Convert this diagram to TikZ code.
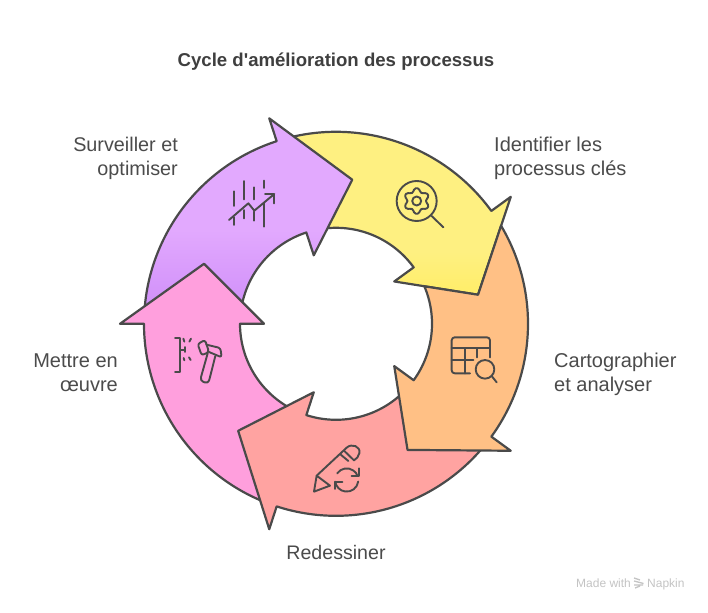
\documentclass[tikz,border=0pt]{standalone}
\usepackage{fontspec}
\setmainfont{Liberation Sans}
\newfontfamily\titlefont{Liberation Sans}
\definecolor{ink}{HTML}{4A4A4A}
\definecolor{labelc}{HTML}{4B4B4B}
\definecolor{titlec}{HTML}{3F3F3F}
\definecolor{markc}{HTML}{C4C4C4}
\definecolor{yelA}{HTML}{FEF081}
\definecolor{yelB}{HTML}{FFEE6C}
\definecolor{oraA}{HTML}{FFC085}
\definecolor{redA}{HTML}{FFA3A1}
\definecolor{pinA}{HTML}{FF9FDD}
\definecolor{purA}{HTML}{E2A9FE}
\definecolor{purB}{HTML}{D08FF9}
\pgfdeclareverticalshading{purshade}{100bp}{color(0bp)=(purB); color(27bp)=(purB); color(47bp)=(purA); color(100bp)=(purA)}
\pgfdeclareverticalshading{yelshade}{100bp}{color(0bp)=(yelB); color(27bp)=(yelB); color(37bp)=(yelA); color(100bp)=(yelA)}
\newcommand{\ringarrow}[4]{%
  \pgfmathsetmacro{\hb}{#2-24.44}%
  \path[ringshape,#1] (#3:192pt) arc[start angle=#3,end angle=#2,radius=192pt]
    -- (#2:216pt) -- (\hb:145pt) -- (#2:72pt) -- (#2:96pt)
    arc[start angle=#2,end angle=#4,radius=96pt] -- cycle;}
\tikzset{
  ringshape/.style={draw=ink,line width=2.2pt,line join=round},
  iconline/.style={draw=ink,line width=1.9pt,line cap=round,line join=round},
  zoomed/.style={x=0.33333pt,y=-0.33333pt},
  lab/.style={font=\fontsize{20}{24}\selectfont,text=labelc,inner sep=0pt},
  markfont/.style={font=\fontsize{12}{14}\selectfont,text=markc,inner sep=0pt,anchor=base west},
}
\begin{document}
\begin{tikzpicture}[x=1pt,y=1pt]
\useasboundingbox (0,0) rectangle (708,612);
\fill[white] (0,0) rectangle (708,612);

\node[font=\titlefont\bfseries\fontsize{18.6}{23}\selectfont,text=titlec,inner sep=0pt] (title) at (336,550.5) {Cycle d'amélioration des processus};

\begin{scope}[shift={(336,288.2)}]
  \ringarrow{shade,shading=yelshade}{36}{106}{99}
  \ringarrow{shade,shading=purshade}{108}{178}{171}
  \ringarrow{fill=pinA}{180}{250}{243}
  \ringarrow{fill=redA}{-108}{-38}{-45}
  % orange tail is cut along the edge of the yellow head
  \path[ringshape,fill=oraA] (30.72:192pt) arc[start angle=30.72,end angle=-36,radius=192pt]
    -- (-36:216pt) -- (-60.44:145pt) -- (-36:72pt) -- (-36:96pt)
    arc[start angle=-36,end angle=23,radius=96pt] -- (11.56:145pt) -- cycle;
\end{scope}

% gear and magnifier
\begin{scope}[shift={(385,442)},zoomed]
  \draw[iconline] (95,93) circle[radius=20pt];
  \draw[iconline] (95,93) circle[radius=4.5pt];
  \draw[iconline] (140,138) -- (175,172);
\end{scope}
\begin{scope}[shift={(416.7,411)}]
  \draw[iconline,rounded corners=1.6pt]
    (70:9.4pt) -- (79:13pt) -- (101:13pt) -- (110:9.4pt)
    -- (130:9.4pt) -- (139:13pt) -- (161:13pt) -- (170:9.4pt)
    -- (190:9.4pt) -- (199:13pt) -- (221:13pt) -- (230:9.4pt)
    -- (250:9.4pt) -- (259:13pt) -- (281:13pt) -- (290:9.4pt)
    -- (310:9.4pt) -- (319:13pt) -- (341:13pt) -- (350:9.4pt)
    -- (10:9.4pt) -- (19:13pt) -- (41:13pt) -- (50:9.4pt) -- cycle;
\end{scope}

% table and magnifier
\begin{scope}[shift={(440,287)},zoomed]
  \draw[iconline,rounded corners=3pt] (90,145) -- (35,145) -- (35,37) -- (150,37) -- (150,97);
  \draw[iconline] (35,70) -- (150,70);
  \draw[iconline] (35,105) -- (100,105);
  \draw[iconline] (75,70) -- (75,145);
  \draw[iconline] (112,70) -- (112,97);
  \draw[iconline] (135,133) circle[radius=9.3pt];
  \draw[iconline] (155,153) -- (170,172);
\end{scope}

% pencil
\begin{scope}[shift={(305,177)},zoomed]
  \draw[iconline] (35,122) -- (27,170) -- (75,152) -- cycle;
  \draw[iconline] (35,122) -- (125,38) .. controls (140,24) and (168,34) .. (163,55) .. controls (160,65) and (155,72) .. (147,76);
  \draw[iconline] (117,47) -- (147,76);
  \draw[iconline] (106,58) -- (130,78);
  \draw[iconline] (162,100) -- (162,122) -- (140,122);
  \draw[iconline] (90,162) -- (90,140) -- (112,140);
\end{scope}
\begin{scope}[shift={(346.7,132)}]
  \draw[iconline] (145:11.6pt) arc[start angle=145,end angle=20,radius=11.6pt];
  \draw[iconline] (-8:11.6pt) arc[start angle=-8,end angle=-172,radius=11.6pt];
\end{scope}

% hammer
\begin{scope}[shift={(165,284)},zoomed]
  \draw[iconline] (30,30) -- (45,30) -- (45,132) -- (30,132);
  \draw[iconline] (45,65) -- (60,65);
  \draw[iconline] (60,57) -- (60,72);
  \draw[iconline] (55,32) -- (58,41);
  \draw[iconline] (78,32) -- (73,41);
  \draw[iconline] (56,90) -- (58,97);
  \draw[iconline] (72,88) -- (77,96);
  \draw[iconline,rounded corners=2.5pt] (98,48) -- (120,36) -- (132,72) -- (110,82) -- cycle;
  \draw[iconline,rounded corners=2.5pt] (124,50) -- (166,60) -- (170,88) -- (132,72);
  \draw[iconline,rounded corners=3.5pt] (128,76) -- (105,158) -- (130,167) -- (151,84);
\end{scope}

% chart
\begin{scope}[shift={(220,442)},zoomed]
  \draw[iconline] (42,64) -- (42,108);
  \draw[iconline] (42,142) -- (42,165);
  \draw[iconline] (72,33) -- (72,88);
  \draw[iconline] (72,120) -- (72,145);
  \draw[iconline] (102,52) -- (102,88);
  \draw[iconline] (102,125) -- (102,152);
  \draw[iconline] (132,32) -- (132,54);
  \draw[iconline] (132,100) -- (132,170);
  \draw[iconline] (27,150) -- (85,100) -- (103,122) -- (163,72);
  \draw[iconline] (135,72) -- (163,72) -- (163,100);
\end{scope}

\node[lab,align=left,anchor=west] (identifier) at (494,454) {Identifier les\\processus clés};
\node[lab,align=left,anchor=west] (cartographier) at (554,238) {Cartographier\\et analyser};
\node[lab,font=\fontsize{19.6}{24}\selectfont] (redessiner) at (336,60) {Redessiner};
\node[lab,align=right,anchor=east] (mettre) at (118,239) {Mettre en\\œuvre};
\node[lab,font=\fontsize{19.8}{24}\selectfont,align=right,anchor=east] (surveiller) at (178,454) {Surveiller et\\optimiser};

\node[markfont] (madewith) at (576,24) {Made with};
\node[markfont] (napkin) at (647,24) {Napkin};
\draw[markc,line width=1.3pt] (634,34) -- (640,32) (634,31) -- (643.5,28.5) (634,27) -- (643,27) (635,24) -- (640,26);
\end{tikzpicture}
\end{document}
